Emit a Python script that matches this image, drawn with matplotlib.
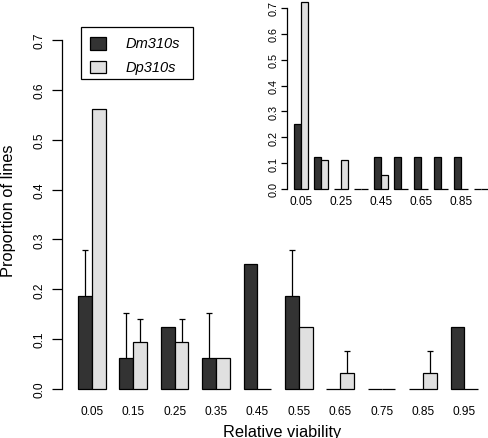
import numpy as np
import matplotlib
matplotlib.use("Agg")
import matplotlib.pyplot as plt
from matplotlib.patches import Rectangle

plt.rcParams["font.family"] = ["Liberation Sans", "DejaVu Sans"]

# --- data ---
viability = ["0.05", "0.15", "0.25", "0.35", "0.45",
             "0.55", "0.65", "0.75", "0.85", "0.95"]
series = ["Dm310s", "Dp310s"]

# main panel: proportion of lines per viability class
dm_main = [0.1875, 0.0625, 0.125, 0.0625, 0.25, 0.1875, 0.0, 0.0, 0.0, 0.125]
dp_main = [0.5625, 0.09375, 0.09375, 0.0625, 0.0, 0.125, 0.03125, 0.0, 0.03125, 0.0]
# upper end of the error bars (nan = no bar)
dm_upper = [0.278, 0.152, np.nan, 0.152, np.nan, 0.278, np.nan, np.nan, np.nan, np.nan]
dp_upper = [np.nan, 0.140, 0.140, np.nan, np.nan, np.nan, 0.077, np.nan, 0.077, np.nan]

# inset panel
dm_inset = [0.25, 0.125, 0.0, 0.0, 0.125, 0.125, 0.125, 0.125, 0.125, 0.0]
dp_inset = [13/18, 2/18, 2/18, 0.0, 1/18, 0.0, 0.0, 0.0, 0.0, 0.0]

DARK, LIGHT = "#333333", "#e0e0e0"
LW = 0.9

W, H = 489, 439
fig = plt.figure(figsize=(W / 100, H / 100), dpi=100)


def px_axes(l, t, r, b):
    return fig.add_axes([l / W, 1 - b / H, (r - l) / W, (b - t) / H])


def draw_bars(ax, dm, dp):
    # R barplot(beside=TRUE) layout: bar width 1, one unit gap between groups
    left = 1 + 3 * np.arange(len(dm))
    ax.bar(left, dm, width=1, align="edge", color=DARK, edgecolor="black", lw=LW)
    ax.bar(left + 1, dp, width=1, align="edge", color=LIGHT, edgecolor="black", lw=LW)
    return left


def r_axis(ax, ticklen, pad, size):
    for s in ["top", "right", "bottom"]:
        ax.spines[s].set_visible(False)
    ax.spines["left"].set_bounds(0, 0.7)
    ax.spines["left"].set_linewidth(LW)
    yt = np.arange(0, 0.71, 0.1)
    ax.set_yticks(yt)
    ax.set_yticklabels([f"{v:.1f}" for v in yt], rotation=90, va="center")
    ax.tick_params(axis="y", length=ticklen, width=LW, pad=pad, labelsize=size)
    ax.set_facecolor("none")


# --- main panel ---
ax = px_axes(62, 27, 489, 404)
ax.set_xlim(-0.16, 30.78)
ax.set_ylim(-0.028, 0.728)
left = draw_bars(ax, dm_main, dp_main)

for off, vals, ups in [(0.5, dm_main, dm_upper), (1.5, dp_main, dp_upper)]:
    x = left + off
    ups = np.array(ups)
    ok = ~np.isnan(ups)
    ax.vlines(x[ok], np.array(vals)[ok], ups[ok], color="black", lw=LW)
    ax.plot(x[ok], ups[ok], ls="none", marker="_", ms=5, mew=LW, color="black")

r_axis(ax, 7.2, 5.0, 8.6)
ax.set_xticks(left + 1)
ax.set_xticklabels(viability)
ax.tick_params(axis="x", length=0, pad=1.6, labelsize=8.6)

fig.text(282 / W, 1 - 437.3 / H, "Relative viability", ha="center",
         va="baseline", fontsize=11.8)
fig.text(9 / W, 1 - 210.5 / H, "Proportion of lines", ha="center",
         va="center", rotation=90, fontsize=11.8)

# legend box drawn by hand to match the R legend
fig.add_artist(Rectangle((80.7 / W, 1 - 80 / H), (193 - 80.7) / W, (80 - 27.7) / H,
                         transform=fig.transFigure, fill=False,
                         edgecolor="black", lw=LW))
for (top, bot, cy), name, col in zip([(38.3, 50.7, 44.5), (61.7, 74, 67.9)],
                                     series, [DARK, LIGHT]):
    fig.add_artist(Rectangle((90 / W, 1 - bot / H), 16.3 / W, (bot - top) / H,
                             transform=fig.transFigure, facecolor=col,
                             edgecolor="black", lw=LW))
    fig.text(125.7 / W, 1 - cy / H, name, ha="left", va="center",
             fontsize=10.5, style="italic")

# --- inset ---
ins = px_axes(286.6, 1.76, 489, 197.24)
ins.set_xlim(-0.16, 30.19)
ins.set_ylim(-0.028, 0.728)
left_i = draw_bars(ins, dm_inset, dp_inset)
r_axis(ins, 4.3, 1.3, 7.8)
ins.set_xticks((left_i + 1)[::2])
ins.set_xticklabels(viability[::2])
ins.tick_params(axis="x", length=0, pad=-1.2, labelsize=8.6)

fig.savefig("out.png", dpi=100)
